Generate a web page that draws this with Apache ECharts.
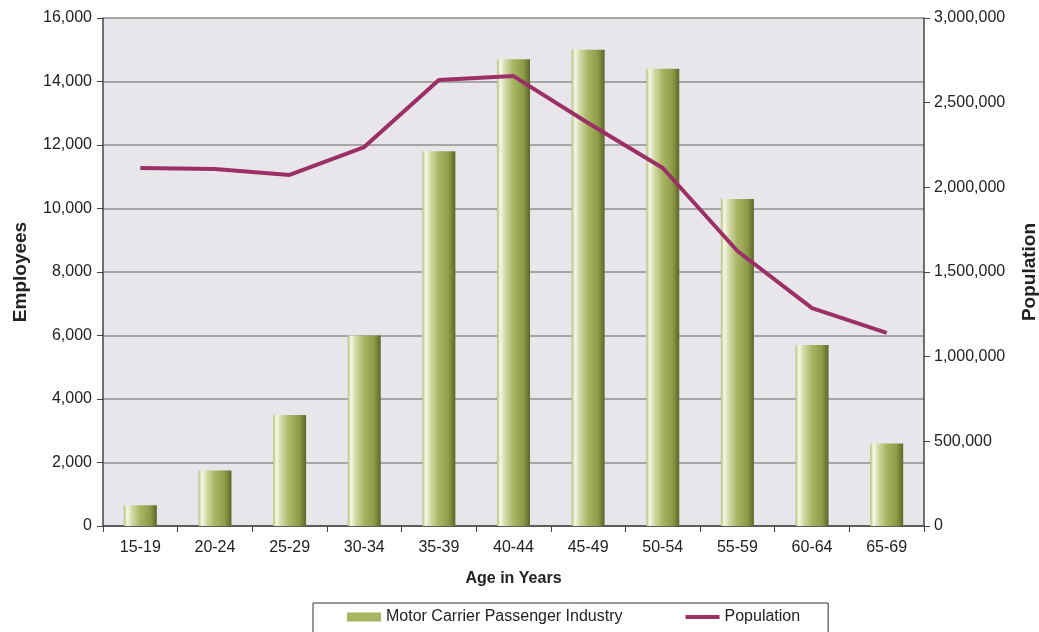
<!DOCTYPE html>
<html>
<head>
<meta charset="utf-8">
<script src="https://cdn.jsdelivr.net/npm/echarts@6/dist/echarts.min.js"></script>
<style>
  html, body { margin: 0; padding: 0; background: #fff; }
  #chart { width: 1039px; height: 632px; }
</style>
</head>
<body>
<div id="chart"></div>
<script>
// 年龄段
const ageGroups = ["15-19", "20-24", "25-29", "30-34", "35-39", "40-44", "45-49", "50-54", "55-59", "60-64", "65-69"];
// 行业雇员数
const employees = [650, 1750, 3500, 6000, 11800, 14700, 15000, 14400, 10300, 5700, 2600];
// 人口
const population = [2114000, 2108000, 2073000, 2238000, 2634000, 2657000, 2380000, 2114000, 1624000, 1287000, 1140000];

const chart = echarts.init(document.getElementById("chart"));

const textFont = "Liberation Sans, Arial, sans-serif";

const option = {
  backgroundColor: "#fff",
  textStyle: { fontFamily: textFont },
  grid: {
    left: 103,
    right: 115,
    top: 18,
    bottom: 106,
    outerBoundsMode: "none",
    containLabel: false,
    show: true,
    backgroundColor: "#E8E6EA",
    borderWidth: 0,
  },
  legend: {
    top: 603,
    left: 313,
    padding: [6, 28, 12, 34],
    itemGap: 63,
    borderColor: "#333",
    borderWidth: 1,
    textStyle: { fontSize: 16, color: "#222", fontFamily: textFont },
    data: [
      { name: "Motor Carrier Passenger Industry", icon: "rect", itemStyle: { color: "#A8B562" } },
      { name: "Population", icon: "path://M0,0H34V4H0Z", itemStyle: { color: "#9C2F65" } },
    ],
    itemWidth: 34,
    itemHeight: 9,
  },
  xAxis: {
    type: "category",
    data: ageGroups,
    name: "Age in Years",
    nameLocation: "middle",
    nameGap: 45,
    nameTextStyle: { fontSize: 16, fontWeight: "bold", color: "#222" },
    axisLine: { lineStyle: { color: "#444", width: 1.5 } },
    axisTick: { show: true, alignWithLabel: false, length: 6, lineStyle: { color: "#444" } },
    axisLabel: { fontSize: 16, color: "#222", margin: 14 },
  },
  yAxis: [
    {
      type: "value",
      min: 0,
      max: 16000,
      interval: 2000,
      name: "Employees",
      nameLocation: "middle",
      nameRotate: 90,
      nameGap: 73,
      nameTextStyle: { fontSize: 19, fontWeight: "bold", color: "#222" },
      axisLine: { show: true, lineStyle: { color: "#444", width: 1.5 } },
      axisTick: { show: true, length: 6, lineStyle: { color: "#444" } },
      axisLabel: {
        fontSize: 16,
        color: "#222",
        margin: 11,
        formatter: (v) => v.toLocaleString("en-US"),
      },
      splitLine: { show: true, lineStyle: { color: "#A6A6A6", width: 2 } },
    },
    {
      type: "value",
      min: 0,
      max: 3000000,
      interval: 500000,
      name: "Population",
      nameLocation: "middle",
      nameRotate: 90,
      nameGap: 96,
      nameTextStyle: { fontSize: 19, fontWeight: "bold", color: "#222" },
      axisLine: { show: true, lineStyle: { color: "#444", width: 1.5 } },
      axisTick: { show: true, length: 6, lineStyle: { color: "#444" } },
      axisLabel: {
        fontSize: 16,
        color: "#222",
        margin: 10,
        formatter: (v) => v.toLocaleString("en-US"),
      },
      splitLine: { show: false },
    },
  ],
  series: [
    {
      name: "Motor Carrier Passenger Industry",
      type: "bar",
      data: employees,
      yAxisIndex: 0,
      barWidth: 33,
      itemStyle: {
        color: new echarts.graphic.LinearGradient(0, 0, 1, 0, [
          { offset: 0, color: "#B4C072" },
          { offset: 0.1, color: "#F6F8EA" },
          { offset: 0.25, color: "#D2D9A6" },
          { offset: 0.5, color: "#A8B562" },
          { offset: 0.8, color: "#8D9B48" },
          { offset: 1, color: "#5B6729" },
        ]),
      },
    },
    {
      name: "Population",
      type: "line",
      data: population,
      yAxisIndex: 1,
      symbol: "none",
      lineStyle: { color: "#9C2F65", width: 4 },
      itemStyle: { color: "#9C2F65" },
    },
  ],
};

chart.setOption(option);
</script>
</body>
</html>
